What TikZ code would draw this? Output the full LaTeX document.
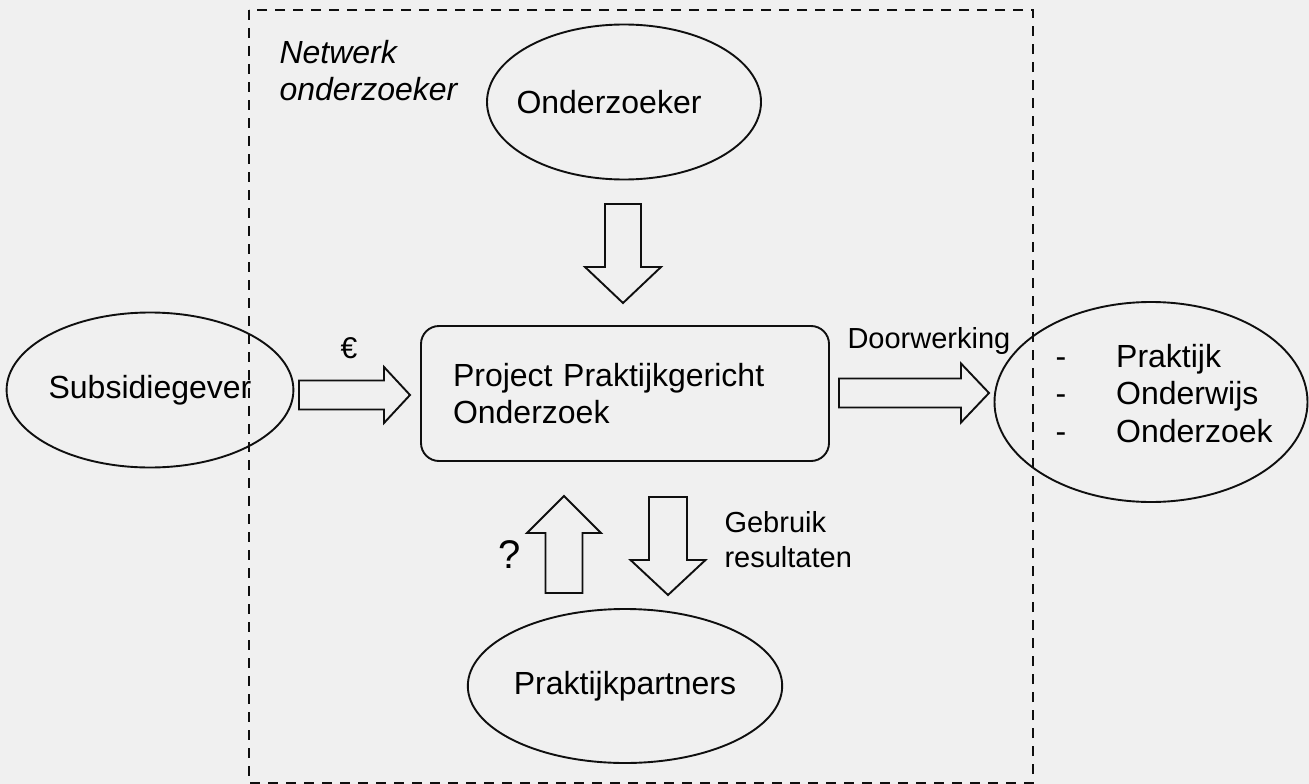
\documentclass[tikz,border=0pt]{standalone}
\usepackage{fontspec}
\setmainfont{Liberation Sans}
\usetikzlibrary{shapes}
\usetikzlibrary{positioning}

\definecolor{achtergrond}{RGB}{240,240,240}
\definecolor{lijn}{RGB}{15,15,15}

% blokpijl: start, hoek, lengte, kop, halve schacht, halve kop
\newcommand{\blokpijl}[6]{%
  \draw[pijl,shift={(#1)},rotate=#2] (0,-#5) -- (#3-#4,-#5) -- (#3-#4,-#6)
    -- (#3,0) -- (#3-#4,#6) -- (#3-#4,#5) -- (0,#5) -- cycle;}

\begin{document}
\begin{tikzpicture}[x=1pt,y=-1pt,
    tekst/.style={font=\fontsize{32}{37.5}\selectfont},
    schuin/.style={font=\fontsize{32}{37}\selectfont\itshape},
    klein/.style={font=\fontsize{29}{35}\selectfont},
    bol/.style={ellipse,draw=lijn,line width=1.9pt,inner sep=0pt},
    blok/.style={rectangle,draw=lijn,line width=1.9pt,rounded corners=18pt},
    pijl/.style={draw=lijn,line width=1.9pt,line join=miter},
    kader/.style={draw=lijn,line width=2.2pt,dash pattern=on 10pt off 8pt}]
  \useasboundingbox (0,0) rectangle (1309,784);
  \fill[achtergrond] (0,0) rectangle (1309,784);

  % kader netwerk
  \draw[kader] (249,10) rectangle (1033,783);
  \node[schuin,anchor=base west,align=left] (netwerk) at (276,100) {Netwerk\\onderzoeker};

  % knopen
  \node[bol,minimum width=274pt,minimum height=155pt,
        label={[tekst,xshift=-15pt]center:Onderzoeker}] (onderzoeker) at (624,102) {};
  \node[bol,tekst,minimum width=271pt,minimum height=155pt] (subsidie) at (150,390) {Subsidiegever};
  \node[blok,tekst,minimum width=408pt,minimum height=135pt,text width=344pt,
        inner xsep=32pt,align=left] (project) at (625,393.5) {Project Praktijkgericht\\Onderzoek};
  \node[bol,tekst,minimum width=274pt,minimum height=154pt] (partners) at (625,686) {Praktijkpartners};
  \node[bol,minimum width=313pt,minimum height=200pt] (doelen) at (1151,402) {};
  \node[tekst,anchor=base west] (lijst) at (1052,367)
    {\begin{tabular}[t]{@{}l@{\hspace{50pt}}l@{}}-&Praktijk\\-&Onderwijs\\-&Onderzoek\end{tabular}};

  % pijlen
  \coordinate (pijlboven) at (623,204);
  \coordinate (pijlgeld) at (299,395);
  \coordinate (pijldoor) at (839,393);
  \coordinate (pijlvraag) at (564,593);
  \coordinate (pijlgebruik) at (668,497);
  \blokpijl{pijlboven}{-90}{99}{36}{18}{38}
  \blokpijl{pijlgeld}{0}{111}{26}{14.5}{28}
  \blokpijl{pijldoor}{0}{150}{28}{14.5}{29.5}
  \blokpijl{pijlvraag}{90}{97}{37}{18.5}{37}
  \blokpijl{pijlgebruik}{-90}{98}{35}{19}{37.5}

  % labels
  \node[font=\fontsize{30}{36}\selectfont,anchor=base] (euro) at (349,358) {€};
  \node[klein,anchor=base west] (doorwerking) at (844,348) {Doorwerking};
  \node[klein,anchor=base west,align=left] (gebruik) at (721,567) {Gebruik\\resultaten};
  \node[font=\fontsize{40}{48}\selectfont,anchor=base] (vraag) at (510,568) {?};
\end{tikzpicture}
\end{document}
